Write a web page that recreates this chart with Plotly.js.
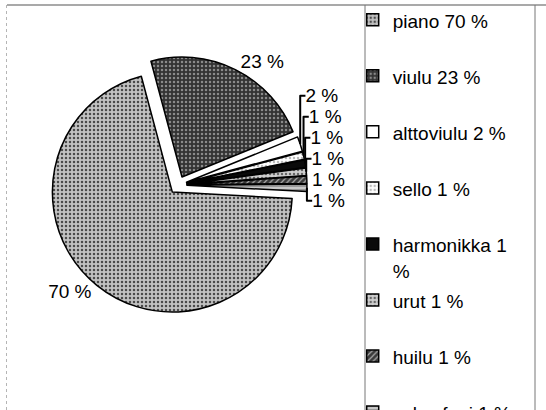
<!DOCTYPE html>
<html><head><meta charset="utf-8">
<script src="https://cdn.plot.ly/plotly-3.0.1.min.js"></script>
<style>html,body{margin:0;padding:0;background:#fff;} .legend .scrollbar{display:none;}</style>
</head><body><div id="chart" style="width:546px;height:410px;"></div>
<script>
// data
const instruments = ['piano', 'viulu', 'alttoviulu', 'sello', 'harmonikka', 'urut', 'huilu', 'saksofoni'];
const shares = [70, 23, 2, 1, 1, 1, 1, 1];
const legendLines = [['piano 70 %'], ['viulu 23 %'], ['alttoviulu 2 %'], ['sello 1 %'], ['harmonikka 1', '%'], ['urut 1 %'], ['huilu 1 %'], ['saksofoni 1 %']];
const sliceTexts = shares.map(v => v + ' %');

// styles
const fillColors = ['#c2c2c2', '#333333', '#ffffff', '#ffffff', '#0a0a0a', '#cfcfcf', '#3a3a3a', '#c8c8c8'];
const patShapes = ['.', '.', '', '.', '', '.', '/', '-'];
const patFg = ['#4a4a4a', '#8a8a8a', '#000000', '#bbbbbb', '#000000', '#666666', '#aaaaaa', '#777777'];
const FONT = 'Liberation Sans, Arial, sans-serif';

const legendLabels = legendLines.map(lines => {
  const l = lines.map(t => '<span style="font-size:19px">' + t + '</span>');
  if (l.length < 2) l.push('\u00a0');
  return l.join('<br>');
});

const trace = {
  type: 'pie',
  labels: legendLabels,
  values: shares,
  text: sliceTexts,
  textinfo: 'text',
  textposition: 'outside',
  textfont: {family: FONT, size: 19, color: '#000'},
  sort: false,
  direction: 'clockwise',
  rotation: 93,
  pull: 0.075,
  hoverinfo: 'none',
  marker: {
    colors: fillColors,
    line: {color: '#000', width: 1.5},
    pattern: {shape: patShapes, fgcolor: patFg, bgcolor: fillColors, size: 4, solidity: 0.3}
  },
  domain: {x: [0.0897, 0.5623], y: [0.234, 0.863]}
};

const layout = {
  width: 546, height: 410,
  margin: {l: 0, r: 0, t: 0, b: 0, autoexpand: false},
  paper_bgcolor: '#fff',
  showlegend: true,
  font: {family: FONT, color: '#000'},
  legend: {
    x: 0.646, xanchor: 'left', y: 1, yanchor: 'top',
    font: {family: FONT, size: 20.4, color: '#000'},
    valign: 'top', borderwidth: 0, bgcolor: 'rgba(0,0,0,0)'
  },
  shapes: [
    {type: 'line', xref: 'paper', yref: 'paper', x0: 7/546, x1: 1, y0: 1 - 5/410, y1: 1 - 5/410, line: {color: '#8c8c8c', width: 1.5}},
    {type: 'line', xref: 'paper', yref: 'paper', x0: 6.5/546, x1: 6.5/546, y0: 0, y1: 1 - 5/410, line: {color: '#b5b5b5', width: 1, dash: 'dot'}},
    {type: 'line', xref: 'paper', yref: 'paper', x0: 365/546, x1: 365/546, y0: 0, y1: 1 - 5/410, line: {color: '#777', width: 1}},
    {type: 'line', xref: 'paper', yref: 'paper', x0: 535/546, x1: 535/546, y0: 0, y1: 1 - 5/410, line: {color: '#777', width: 1}}
  ]
};

Plotly.newPlot('chart', [trace], layout, {staticPlot: true, displayModeBar: false});
</script></body></html>
